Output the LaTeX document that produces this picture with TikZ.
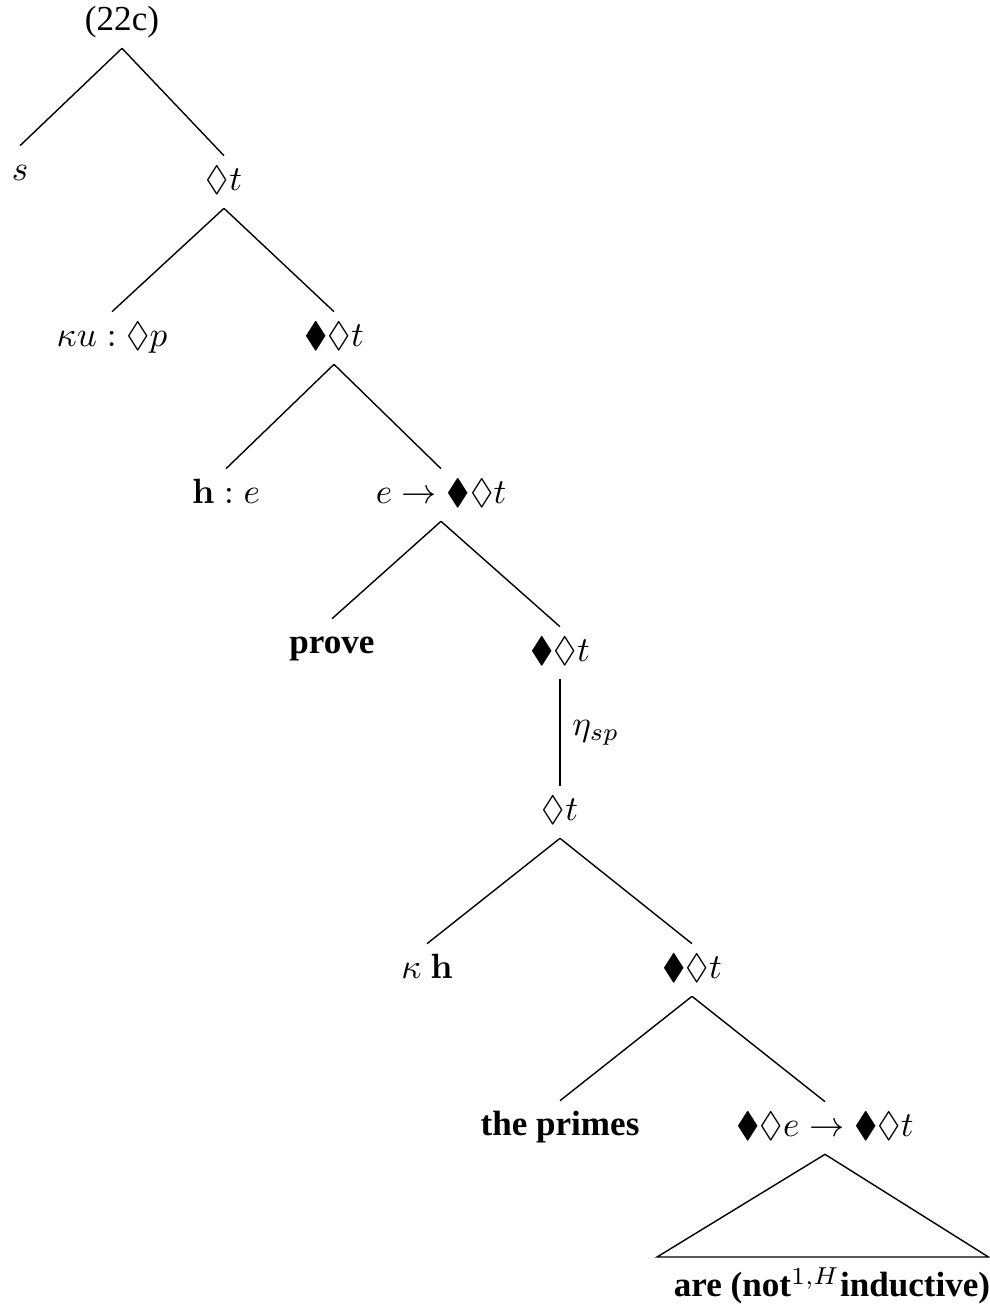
\documentclass[tikz,border=0pt]{standalone}
\usepackage{amssymb}
\usepackage[no-math]{fontspec}
\setmainfont{Liberation Serif}
\begin{document}
\begin{tikzpicture}[x=0.285pt,y=-0.285pt,
  tnode/.style={inner sep=2.8pt, text height=7pt, text depth=2pt},
  branch/.style={draw=black, line width=0.4pt}]
\useasboundingbox (0,0) rectangle (989,1307);
\node[tnode] (root) at (122,22) {(22c)};
\node[tnode] (s) at (20,172) {$s$};
\node[tnode] (n1) at (224,182) {$\lozenge t$};
\node[tnode] (ku) at (112,338) {$\kappa u:\lozenge p$};
\node[tnode] (n2) at (334,338) {$\blacklozenge\lozenge t$};
\node[tnode] (he) at (226,495) {$\mathbf{h}:e$};
\node[tnode] (n3) at (441,495) {$e\rightarrow\blacklozenge\lozenge t$};
\node[tnode] (prove) at (332,645) {\textbf{prove}};
\node[tnode] (n4) at (560,653) {$\blacklozenge\lozenge t$};
\node[tnode] (n5) at (560,812) {$\lozenge t$};
\node[tnode] (kh) at (427,970) {$\kappa\ \mathbf{h}$};
\node[tnode] (n6) at (692,970) {$\blacklozenge\lozenge t$};
\node[tnode] (primes) at (560,1127) {\textbf{the primes}};
\node[tnode] (n7) at (825,1128) {$\blacklozenge\lozenge e\rightarrow\blacklozenge\lozenge t$};
\coordinate (bl) at (657,1257);
\coordinate (br) at (988.5,1257);
\node[tnode] (are) at (832,1288) {\textbf{are (not$^{1,H}$inductive)}};
\draw[branch] (root.south) -- (s.north);
\draw[branch] (root.south) -- (n1.north);
\draw[branch] (n1.south) -- (ku.north);
\draw[branch] (n1.south) -- (n2.north);
\draw[branch] (n2.south) -- (he.north);
\draw[branch] (n2.south) -- (n3.north);
\draw[branch] (n3.south) -- (prove.north);
\draw[branch] (n3.south) -- (n4.north);
\draw[branch] (n4.south) -- node[right] (eta) {$\eta_{sp}$} (n5.north);
\draw[branch] (n5.south) -- (kh.north);
\draw[branch] (n5.south) -- (n6.north);
\draw[branch] (n6.south) -- (primes.north);
\draw[branch] (n6.south) -- (n7.north);
\draw[branch] (n7.south) -- (bl) -- (br) -- cycle;
\end{tikzpicture}
\end{document}
